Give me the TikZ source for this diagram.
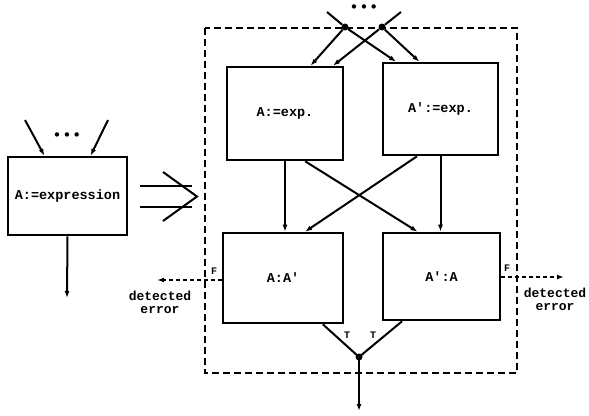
\documentclass[tikz,border=0pt]{standalone}
\usepackage{fontspec}
\setmonofont{Liberation Mono}
\newfontfamily\dotfont{DejaVu Sans}
\usetikzlibrary{arrows.meta,calc}
\begin{document}
\begin{tikzpicture}[x=1pt,y=-1pt,
  box/.style={draw,line width=2.6pt,minimum width=#1,inner sep=0pt},
  lbl/.style={font=\ttfamily\bfseries\fontsize{13.5}{12}\selectfont,inner sep=0pt},
  small/.style={font=\ttfamily\bfseries\fontsize{10}{10}\selectfont,inner sep=0pt},
  err/.style={align=center,inner sep=0pt,font=\ttfamily\bfseries\fontsize{13}{13}\selectfont},
  con/.style={line width=2pt,-{Latex[length=7pt,width=5pt]}},
  ln/.style={line width=2pt},
  dsh/.style={line width=1.8pt,dash pattern=on 4pt off 3pt,-{Latex[length=7pt,width=5pt]}},
  dotn/.style={circle,fill,inner sep=0pt,minimum size=7pt},
  ell/.style={font=\dotfont\fontsize{15}{15}\selectfont,inner sep=0pt}]
\useasboundingbox (0,0) rectangle (589,415);
% left single block
\node[box=119pt,minimum height=78pt,lbl] (L) at (67.5,196) {A:=expression};
\coordinate (li1) at (25,120);
\coordinate (li2) at (108,120);
\coordinate (lo) at (67,298);
\draw[con] (li1) -- ($(L.north west)!0.31!(L.north east)$);
\draw[con] (li2) -- ($(L.north west)!0.69!(L.north east)$);
\node[ell] (ldots) at (67,137) {•\kern1pt•\kern1pt•};
\draw[con] (L.south) -- (lo);
% implication arrow
\coordinate (i1) at (140,186); \coordinate (i2) at (192,186);
\coordinate (i3) at (140,207); \coordinate (i4) at (192,207);
\coordinate (c1) at (163,172); \coordinate (c2) at (197,196.5); \coordinate (c3) at (163,221);
\draw[line width=2pt] (i1) -- (i2) (i3) -- (i4);
\draw[line width=2pt,line join=miter] (c1) -- (c2) -- (c3);
% dashed border
\draw[line width=2pt,dash pattern=on 7pt off 4pt] (205,28) rectangle (517,373);
% boxes
\node[box=116pt,minimum height=93pt,lbl] (TL) at (285,113.5) {A:=exp.};
\node[box=115pt,minimum height=92pt,lbl] (TR) at (440.5,109) {A':=exp.};
\node[box=120pt,minimum height=90pt,lbl] (BL) at (283,278) {A:A'};
\node[box=117pt,minimum height=87pt,lbl] (BR) at (441.5,276.5) {A':A};
% top inputs
\node[ell] (tdots) at (364,9) {•\kern1pt•\kern1pt•};
\coordinate (ti1) at (327,12);
\coordinate (ti2) at (401,12);
\node[dotn] (d1) at (345,27) {};
\node[dotn] (d2) at (382,27) {};
\draw[ln] (ti1) -- (d1);
\draw[ln] (ti2) -- (d2);
\draw[con] (d1) -- ($(TL.north west)!0.716!(TL.north east)$);
\draw[con] (d1) -- ($(TR.north west)!0.122!(TR.north east)$);
\draw[con] (d2) -- ($(TL.north west)!0.905!(TL.north east)$);
\draw[con] (d2) -- ($(TR.north west)!0.32!(TR.north east)$);
% middle
\draw[con] (TL.south) -- (TL.south |- BL.north);
\draw[con] (TR.south) -- (TR.south |- BR.north);
\draw[con] ($(TL.south west)!0.67!(TL.south east)$) -- ($(BR.north west)!0.3!(BR.north east)$);
\draw[con] ($(TR.south west)!0.3!(TR.south east)$) -- ($(BL.north west)!0.68!(BL.north east)$);
% error outputs
\coordinate (eL) at (157,280);
\coordinate (eR) at (564,277);
\draw[dsh] (BL.west |- eL) -- (eL);
\draw[dsh] (BR.east |- eR) -- (eR);
\node[small] (fL) at (214,271) {F};
\node[small] (fR) at (507,268) {F};
\node[err] (tL) at (160,302.5) {detected\\error};
\node[err] (tR) at (555,299) {detected\\error};
% true outputs
\node[dotn] (J) at (359,357) {};
\coordinate (out) at (359,411);
\draw[ln] ($(BL.south west)!0.825!(BL.south east)$) -- (J.center);
\draw[ln] ($(BR.south west)!0.17!(BR.south east)$) -- (J.center);
\draw[con] (J.center) -- (out);
\node[small] (t1) at (347,335) {T};
\node[small] (t2) at (373,335) {T};
\end{tikzpicture}
\end{document}
